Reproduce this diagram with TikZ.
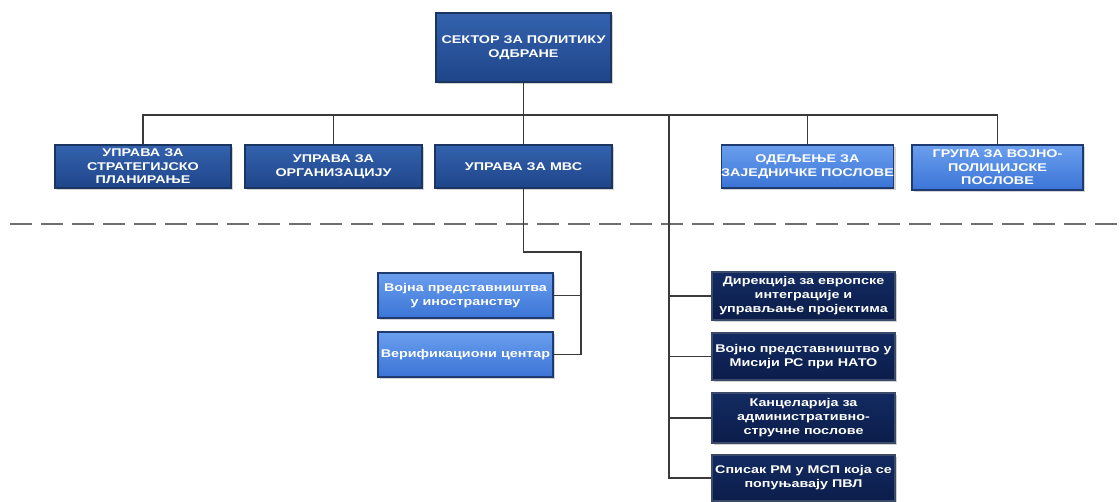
\documentclass[tikz,border=0pt]{standalone}
\usepackage{fontspec}
\setmainfont{Liberation Sans}
\newfontfamily\widefont[FakeStretch=1.28]{Liberation Sans}
\usetikzlibrary{shadows}
\definecolor{lvA}{HTML}{3462AE}
\definecolor{lvB}{HTML}{1E4589}
\definecolor{lvBorder}{HTML}{1A355F}
\definecolor{ltA}{HTML}{6A9FEE}
\definecolor{ltB}{HTML}{3B74D6}
\definecolor{ltBorder}{HTML}{1E3A70}
\definecolor{nvA}{HTML}{132B62}
\definecolor{nvB}{HTML}{0B1D4A}
\definecolor{nvBorder}{HTML}{3A4A68}
\definecolor{conn}{HTML}{3A3A3A}
\definecolor{dashc}{HTML}{6E6E6E}
\tikzset{
  boxbase/.style={draw, line width=1.2pt, align=center, text=white,
    inner sep=0pt,
    drop shadow={shadow xshift=2pt, shadow yshift=-2pt, fill=black!35, opacity=0.5}},
  lvbox/.style={boxbase, draw=lvBorder, top color=lvA, bottom color=lvB,
    font=\widefont\bfseries\fontsize{11.2}{13.5}\selectfont},
  ltbox/.style={boxbase, draw=ltBorder, top color=ltA, bottom color=ltB,
    font=\widefont\bfseries\fontsize{11.2}{13.5}\selectfont},
  lowlt/.style={boxbase, draw=ltBorder, top color=ltA, bottom color=ltB,
    font=\widefont\bfseries\fontsize{11.2}{14}\selectfont},
  nvbox/.style={boxbase, draw=nvBorder, top color=nvA, bottom color=nvB,
    font=\widefont\bfseries\fontsize{11.2}{14}\selectfont},
  link/.style={draw=conn, line width=1.6pt}
}
\begin{document}
\begin{tikzpicture}[x=1pt,y=-1pt]
\useasboundingbox (0,0) rectangle (1120,502);
% dashed separator
\draw[dashc, line width=2pt, dash pattern=on 22pt off 9pt] (10,224) -- (1120,224);

% nodes
\node[lvbox, minimum width=175pt, minimum height=69pt] (top) at (523.5,47.5) {СЕКТОР ЗА ПОЛИТИКУ\\ОДБРАНЕ};
\node[lvbox, minimum width=176pt, minimum height=43pt] (b1) at (143,166.5) {УПРАВА ЗА\\СТРАТЕГИЈСКО\\ПЛАНИРАЊЕ};
\node[lvbox, minimum width=177pt, minimum height=43pt] (b2) at (333.5,166.5) {УПРАВА ЗА\\ОРГАНИЗАЦИЈУ};
\node[lvbox, minimum width=177pt, minimum height=43pt] (b3) at (523.5,166.5) {УПРАВА ЗА МВС};
\node[ltbox, minimum width=171pt, minimum height=43pt] (b4) at (807.5,166.5) {ОДЕЉЕЊЕ ЗА\\ЗАЈЕДНИЧКЕ ПОСЛОВЕ};
\node[ltbox, minimum width=171pt, minimum height=45pt] (b5) at (997.5,167.5) {ГРУПА ЗА ВОЈНО-\\ПОЛИЦИЈСКЕ\\ПОСЛОВЕ};

\node[lowlt, minimum width=175pt, minimum height=45pt] (b6) at (465.5,295.5) {Војна представништва\\у иностранству};
\node[lowlt, minimum width=175pt, minimum height=45pt] (b7) at (465.5,354.5) {Верификациони центар};

\node[nvbox, minimum width=183pt, minimum height=48pt] (b8) at (803.5,296) {Дирекција за европске\\интеграције и\\управљање пројектима};
\node[nvbox, minimum width=183pt, minimum height=47pt] (b9) at (803.5,356.5) {Војно представништво у\\Мисији РС при НАТО};
\node[nvbox, minimum width=183pt, minimum height=50pt] (b10) at (803.5,418) {Канцеларија за\\административно-\\стручне послове};
\node[nvbox, minimum width=183pt, minimum height=46pt] (b11) at (803.5,478) {Списак РМ у МСП која се\\попуњавају ПВЛ};

% connectors
\coordinate (bus) at (523.5,115);
\coordinate (dir) at (669,115);
\coordinate (m1) at (523.5,252);
\coordinate (m2) at (581,252);
\draw[link] (top.south) -- (bus);
\draw[link] (b1.north) -- (b1.north |- bus) -- (b5.north |- bus) -- (b5.north);
\draw[link] (b2.north) -- (b2.north |- bus);
\draw[link] (b3.north) -- (bus);
\draw[link] (b4.north) -- (b4.north |- bus);
\draw[link] (b3.south) -- (m1) -- (m2) -- (b7.east -| m2) -- (b7.east);
\draw[link] (b6.east) -- (b6.east -| m2);
\draw[link] (dir) -- (b11.west -| dir) -- (b11.west);
\draw[link] (b8.west) -- (b8.west -| dir);
\draw[link] (b9.west) -- (b9.west -| dir);
\draw[link] (b10.west) -- (b10.west -| dir);
\end{tikzpicture}
\end{document}
